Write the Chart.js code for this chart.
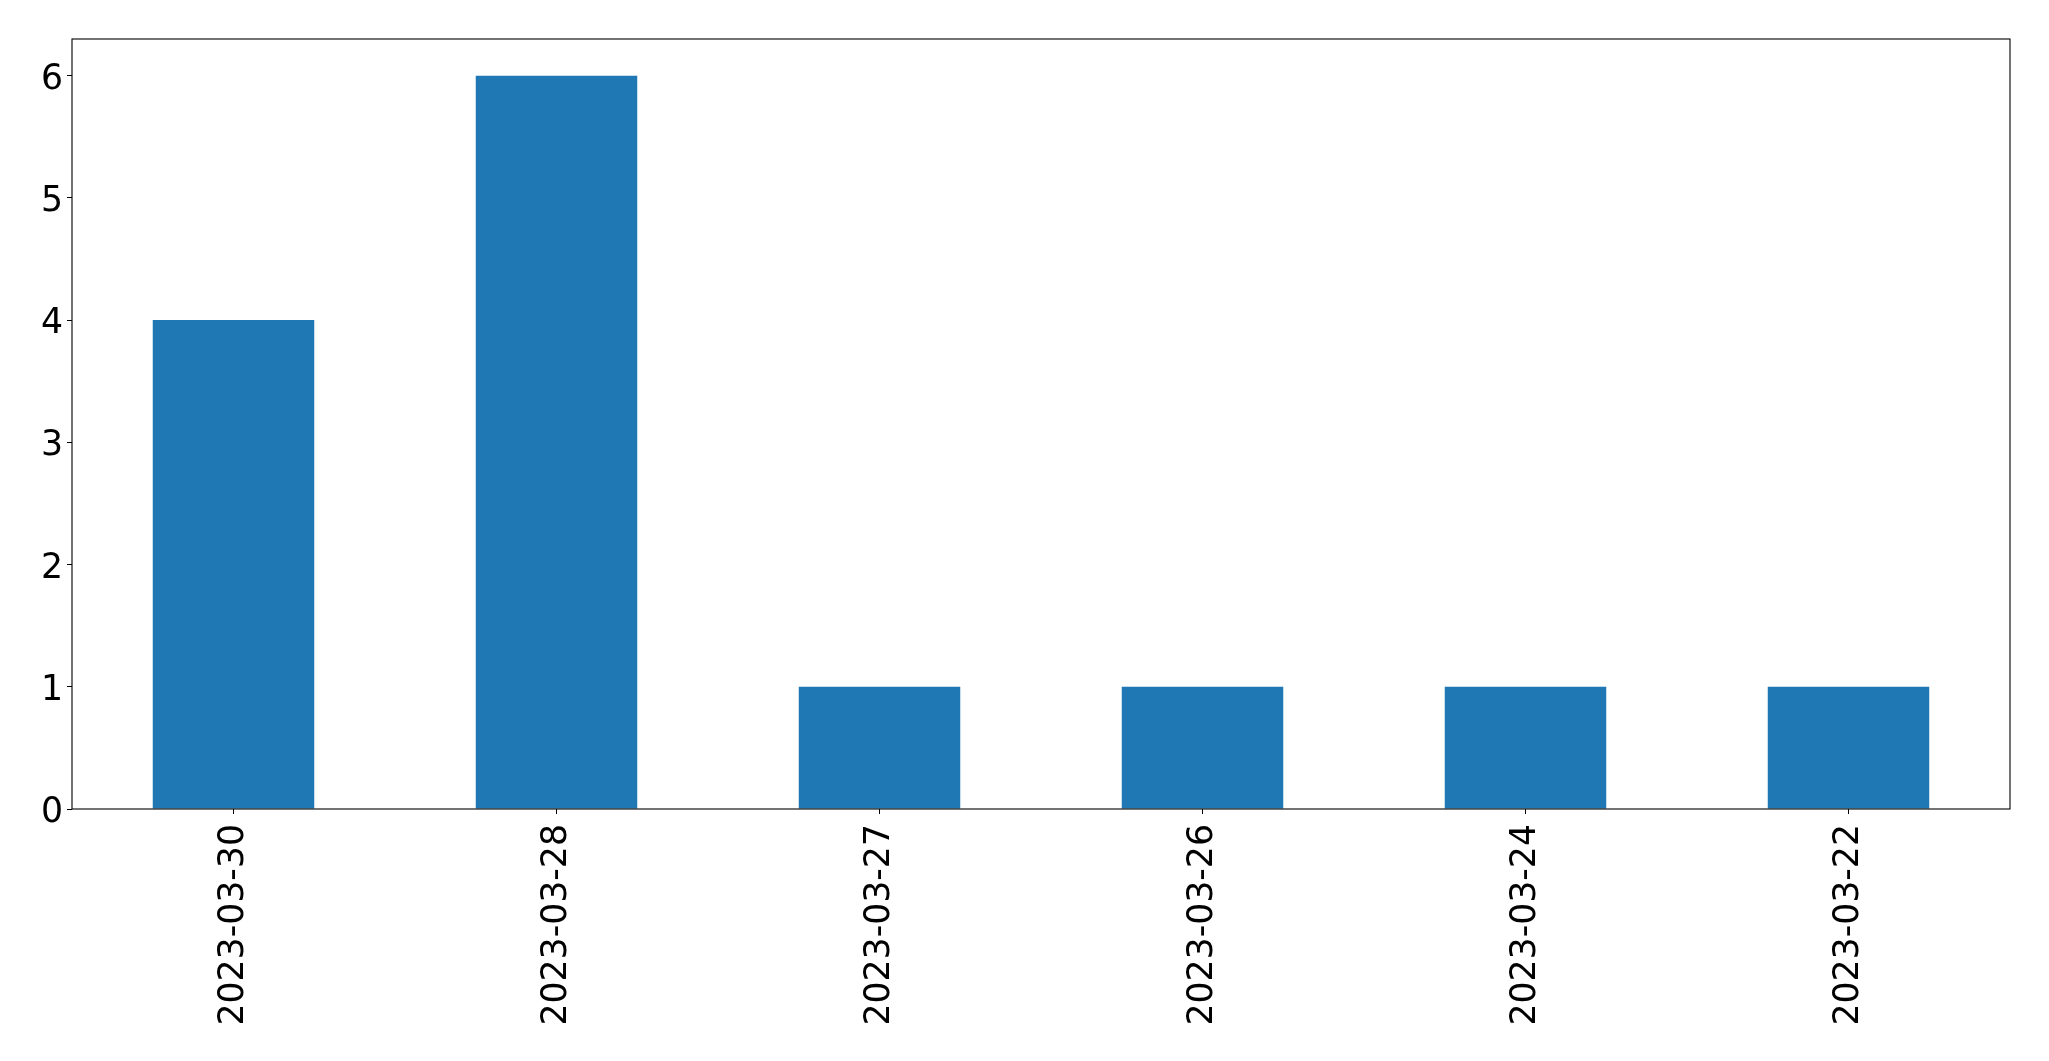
<!DOCTYPE html>
<html>
<head>
<meta charset="utf-8">
<script src="https://cdn.jsdelivr.net/npm/chart.js@4/dist/chart.umd.min.js"></script>
<style>
  html, body { margin: 0; padding: 0; background: #fff; }
  canvas { display: block; }
</style>
</head>
<body>
<canvas id="chart" width="2049" height="1061"></canvas>
<script>
const dates = ["2023-03-30", "2023-03-28", "2023-03-27", "2023-03-26", "2023-03-24", "2023-03-22"];
const counts = [4, 6, 1, 1, 1, 1];
const yTickValues = [0, 1, 2, 3, 4, 5, 6];

const font = { family: "DejaVu Sans", size: 34.7 };

// box round the plot area, like matplotlib spines
const frame = {
  id: "frame",
  afterDraw(chart) {
    const { ctx, chartArea: a } = chart;
    ctx.save();
    ctx.strokeStyle = "#000";
    ctx.lineWidth = 1.1;
    ctx.strokeRect(a.left, a.top, a.right - a.left, a.bottom - a.top);
    ctx.restore();
  }
};

new Chart(document.getElementById("chart"), {
  type: "bar",
  data: {
    labels: dates,
    datasets: [{
      data: counts,
      backgroundColor: "#1f77b4",
      categoryPercentage: 1,
      barPercentage: 0.5
    }]
  },
  options: {
    responsive: false,
    animation: false,
    layout: { padding: { top: 39, right: 39, left: 0, bottom: 0 } },
    plugins: { legend: { display: false }, tooltip: { enabled: false } },
    scales: {
      x: {
        border: { display: false },
        grid: { drawOnChartArea: false, offset: false, tickLength: 5, tickColor: "#000", lineWidth: 1 },
        ticks: { color: "#000", font: font, minRotation: 90, maxRotation: 90, padding: 10, autoSkip: false },
        afterFit(scale) { scale.height = 252; }
      },
      y: {
        min: 0,
        max: 6.3,
        border: { display: false },
        grid: { drawOnChartArea: false, tickLength: 5, tickColor: "#000", lineWidth: 1 },
        ticks: { color: "#000", font: font, padding: 4, labelOffset: 4 },
        afterBuildTicks(scale) { scale.ticks = yTickValues.map(v => ({ value: v })); },
        afterFit(scale) { scale.width = 72; }
      }
    }
  },
  plugins: [frame]
});
</script>
</body>
</html>
